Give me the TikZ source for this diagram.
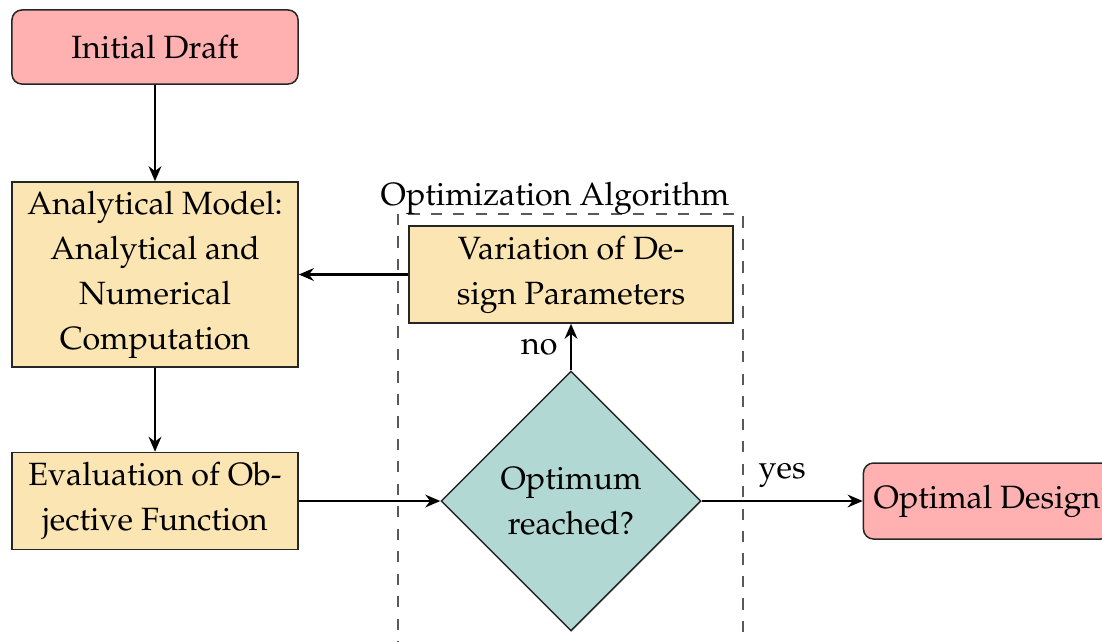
\documentclass[tikz,border=0pt]{standalone}
\usepackage[T1]{fontenc}
\usepackage{mathpazo}
\usetikzlibrary{shapes.geometric,arrows.meta}
\definecolor{pinkf}{RGB}{255,176,176}
\definecolor{yellowf}{RGB}{251,229,178}
\definecolor{tealf}{RGB}{178,216,212}
\tikzset{
  every node/.style={font=\fontsize{8.6pt}{12pt}\selectfont},
  base/.style={draw=black!85, thin, align=center, inner sep=0pt},
  termbox/.style={base, fill=pinkf, rounded corners=2.7pt},
  procbox/.style={base, fill=yellowf},
  decbox/.style={base, fill=tealf, diamond, aspect=1},
  conn/.style={semithick, -{Stealth[length=4pt,width=3.4pt]}},
}
\begin{document}
\begin{tikzpicture}[x=0.267pt, y=-0.267pt]
\useasboundingbox (0,0) rectangle (1102,641);
\clip (0,0) rectangle (1102,641);
\draw[dashed, black!65, thin] (398,214) rectangle (743,700);
\node (alg) at (555,198) {Optimization Algorithm};
\node[termbox, minimum width=76.4pt, minimum height=19.8pt] (init) at (155,47) {Initial Draft};
\node[procbox, minimum width=76.4pt, minimum height=49.4pt] (model) at (155,274.5) {Analytical Model:\\Analytical and\\Numerical\\Computation};
\node[procbox, minimum width=76.4pt, minimum height=25.9pt] (eval) at (155,501) {Evaluation of Ob-\\jective Function};
\node[procbox, minimum width=86.5pt, minimum height=25.9pt] (var) at (571,274.5) {Variation of De-\\sign Parameters};
\node[decbox, minimum width=69.4pt, minimum height=69.4pt] (dec) at (571,501) {Optimum\\reached?};
\node[termbox, minimum width=66pt, minimum height=20.3pt] (opt) at (987,501) {Optimal Design};
\draw[conn] (init) -- (model);
\draw[conn] (model) -- (eval);
\draw[conn] (var) -- (model);
\draw[conn] (eval) -- (dec);
\draw[conn] (dec) -- node[left, pos=0.5] (no) {no} (var);
\draw[conn] (dec) -- node[above, pos=0.5] (yes) {yes} (opt);
\end{tikzpicture}
\end{document}
